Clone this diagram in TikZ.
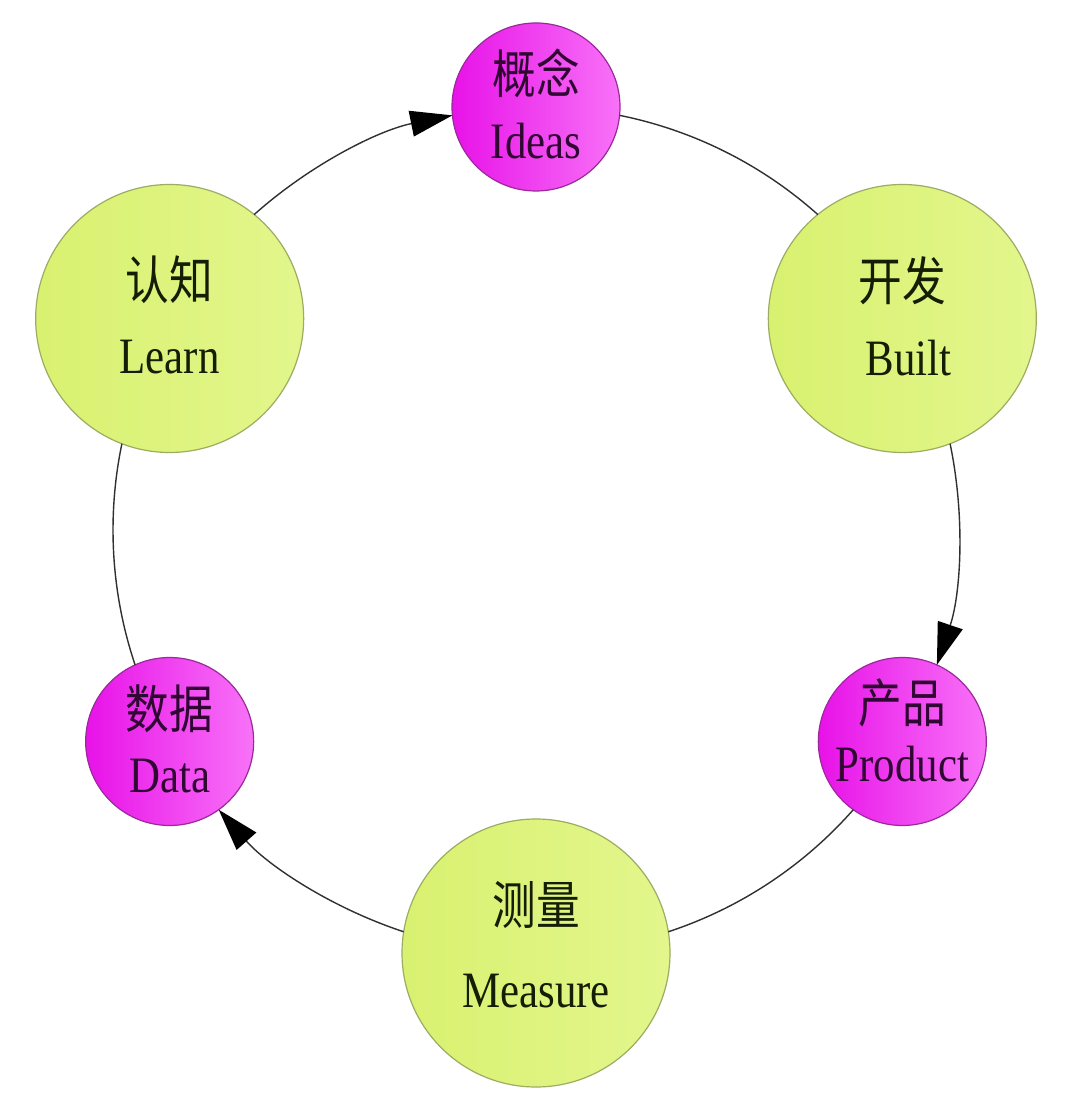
\documentclass[tikz,border=0pt]{standalone}
\usepackage{fontspec}
\setmainfont{Liberation Serif}[FakeStretch=0.84]
\newfontfamily\cjk{Noto Sans CJK SC}[FakeStretch=0.84]
\usetikzlibrary{arrows.meta}
\definecolor{gL}{HTML}{D9F170}
\definecolor{gR}{HTML}{E2F68C}
\definecolor{gedge}{HTML}{9CAC62}
\definecolor{mL}{HTML}{E812E8}
\definecolor{mR}{HTML}{F872F8}
\definecolor{medge}{HTML}{9A2A9A}
\definecolor{gtext}{HTML}{141E04}
\definecolor{mtext}{HTML}{300632}
\definecolor{lineC}{HTML}{303030}
\begin{document}
\begin{tikzpicture}[x=1pt,y=1pt,
  gnode/.style={circle,draw=gedge,line width=1.2pt,minimum size=268pt,inner sep=0pt,outer sep=0pt,left color=gL,right color=gR},
  mnode/.style={circle,draw=medge,line width=1.2pt,minimum size=168pt,inner sep=0pt,outer sep=0pt,left color=mL,right color=mR},
  zh/.style={font=\cjk\fontsize{52}{60}\selectfont,inner sep=0pt},
  en/.style={font=\fontsize{51}{60}\selectfont,inner sep=0pt,anchor=base},
  conn/.style={draw=lineC,line width=1.4pt},
  tip/.style={-{Triangle[length=42pt,width=26pt,color=black]}}]
\useasboundingbox[fill=white] (-536,-564) rectangle (544,530);
\coordinate (O) at (0,0);
% nodes
\node[mnode] (ideas) at (90:423) {};
\node[gnode] (built) at (30:423) {};
\node[mnode] (product) at (-30:423) {};
\node[gnode] (measure) at (-90:423) {};
\node[mnode] (data) at (-150:423) {};
\node[gnode] (learn) at (150:423) {};
% connectors (arcs of the big cycle)
\draw[conn,tip] (O) ++(131.77:423) arc[start angle=131.77,end angle=101.40,radius=423];
\draw[conn] (O) ++(78.60:423) arc[start angle=78.60,end angle=48.23,radius=423];
\draw[conn,tip] (O) ++(11.77:423) arc[start angle=11.77,end angle=-18.60,radius=423];
\draw[conn] (O) ++(-41.40:423) arc[start angle=-41.40,end angle=-71.77,radius=423];
\draw[conn,tip] (O) ++(-108.23:423) arc[start angle=-108.23,end angle=-138.60,radius=423];
\draw[conn] (O) ++(-161.40:423) arc[start angle=-161.40,end angle=-191.77,radius=423];
% labels
\node[zh,text=mtext] (ideasZ) at ([yshift=34]ideas.center) {概念};
\node[en,text=mtext] (ideasE) at ([yshift=-52]ideas.center) {Ideas};
\node[zh,text=gtext] (builtZ) at ([yshift=38]built.center) {开发};
\node[en,text=gtext] (builtE) at ([xshift=6,yshift=-57]built.center) {Built};
\node[zh,text=mtext] (productZ) at ([yshift=39]product.center) {产品};
\node[en,text=mtext] (productE) at ([yshift=-40]product.center) {Product};
\node[zh,text=gtext] (measureZ) at ([yshift=48]measure.center) {测量};
\node[en,text=gtext] (measureE) at ([yshift=-54]measure.center) {Measure};
\node[zh,text=mtext] (dataZ) at ([yshift=33]data.center) {数据};
\node[en,text=mtext] (dataE) at ([yshift=-51]data.center) {Data};
\node[zh,text=gtext] (learnZ) at ([yshift=39]learn.center) {认知};
\node[en,text=gtext] (learnE) at ([yshift=-55]learn.center) {Learn};
\end{tikzpicture}
\end{document}
